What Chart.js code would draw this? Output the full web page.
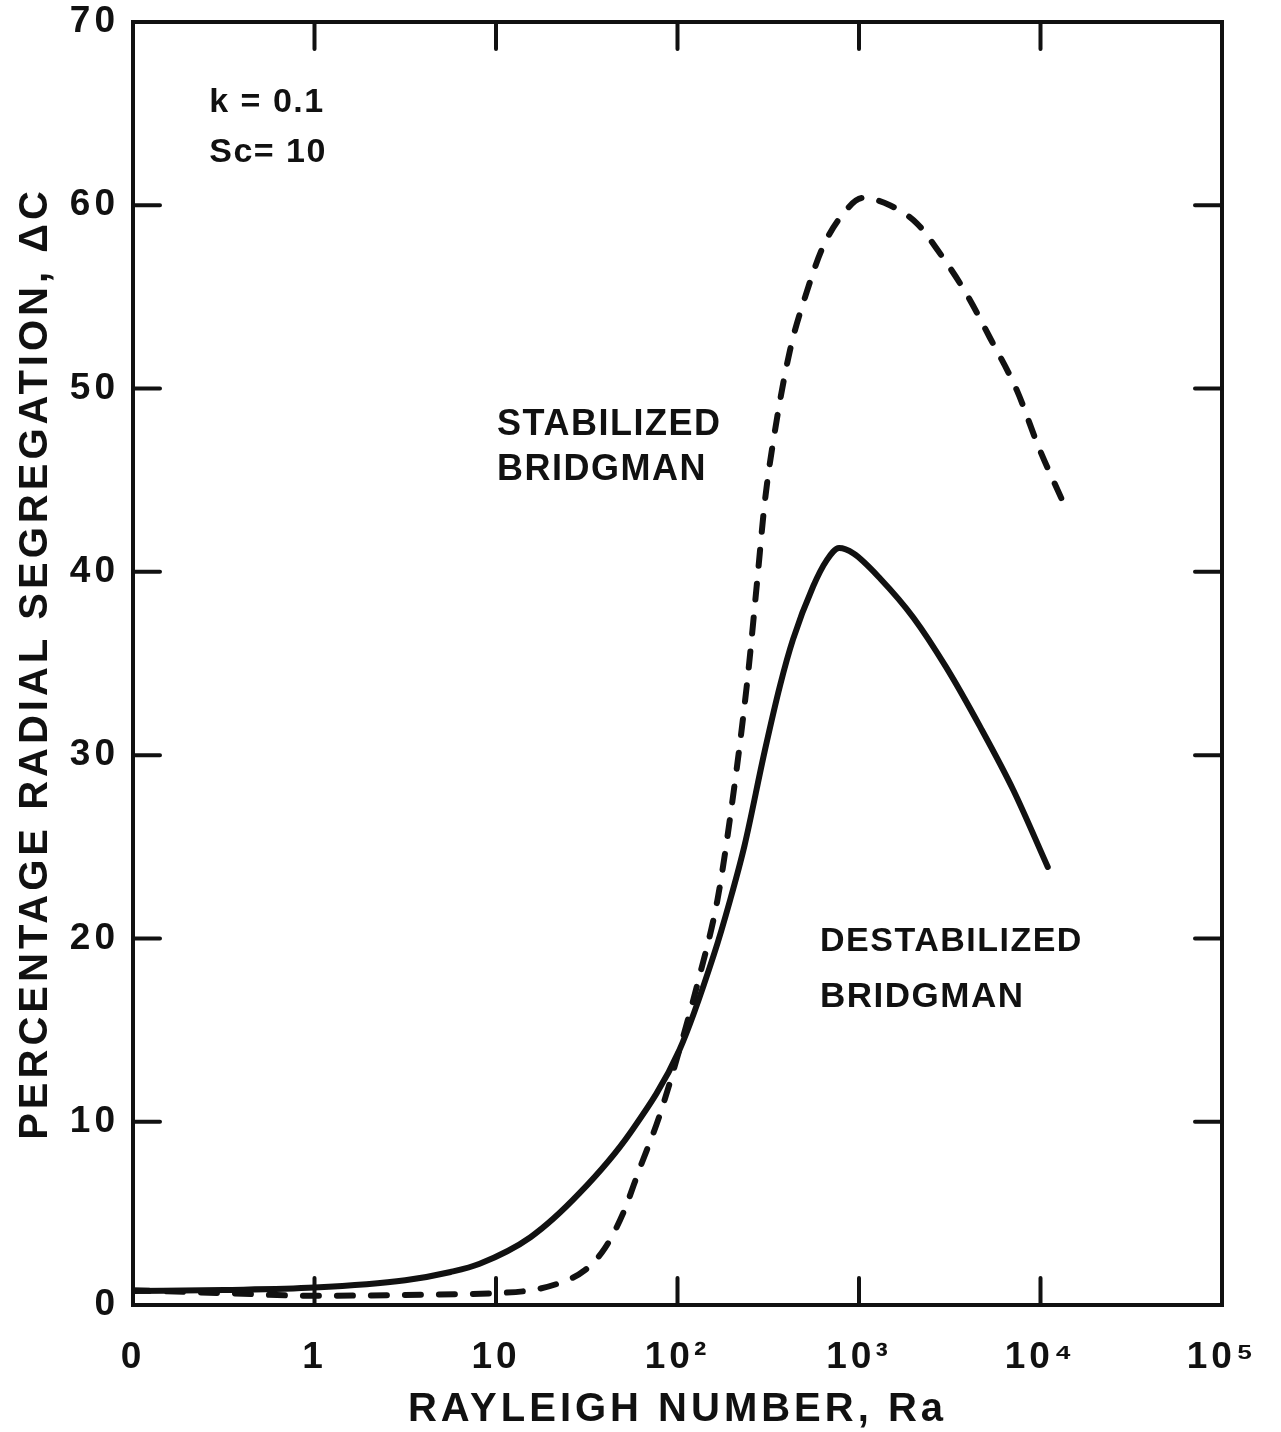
<!DOCTYPE html>
<html><head><meta charset="utf-8">
<script src="https://cdn.jsdelivr.net/npm/chart.js@4.4.1/dist/chart.umd.min.js"></script>
<style>html,body{margin:0;padding:0;background:#fff}#wrap{width:1281px;height:1432px;position:relative}</style>
</head><body><div id="wrap"><canvas id="c"></canvas></div>
<script>
// x positions are decade indices: 0 -> Ra=0, 1 -> Ra=1, 2 -> 10, 3 -> 10^2 ...
const xTickLabels = ['0', '1', '10', '10²', '10³', '10⁴', '10⁵'];
const yTickValues = [0, 10, 20, 30, 40, 50, 60, 70];

const destabilizedX = [0, 0.5, 1, 1.5, 1.75, 1.91, 2.19, 2.46, 2.74, 3.01, 3.2, 3.29, 3.37, 3.48, 3.565, 3.636, 3.747, 3.82, 3.89, 3.97, 4.12, 4.30, 4.48, 4.67, 4.85, 5.04];
const destabilizedY = [0.76, 0.82, 0.95, 1.35, 1.8, 2.25, 3.7, 6.1, 9.4, 13.9, 19.1, 22.1, 25.1, 30.2, 33.8, 36.3, 39.2, 40.6, 41.3, 41.0, 39.6, 37.5, 34.8, 31.5, 28.1, 23.9];

const stabilizedX = [0, 0.5, 1, 1.5, 2, 2.19, 2.35, 2.49, 2.60, 2.70, 2.79, 2.90, 3.01, 3.12, 3.22, 3.29, 3.383, 3.438, 3.482, 3.537, 3.62, 3.713, 3.80, 3.91, 4.02, 4.17, 4.32, 4.43, 4.59, 4.72, 4.87, 4.99, 5.12];
const stabilizedY = [0.8, 0.65, 0.5, 0.55, 0.65, 0.8, 1.2, 1.9, 3.1, 5.0, 7.4, 10.3, 13.9, 17.9, 22.1, 26.6, 33.9, 39.4, 43.9, 47.7, 52.1, 55.3, 57.7, 59.5, 60.4, 60.0, 59.0, 57.6, 55.2, 52.8, 49.9, 46.8, 43.9];

const xTitle = 'RAYLEIGH NUMBER, Ra';
const yTitle = 'PERCENTAGE RADIAL SEGREGATION, ΔC';
const notes = [
  {text: 'k = 0.1', x: 0.42, y: 65.6, size: 34},
  {text: 'Sc= 10', x: 0.42, y: 62.9, size: 34},
  {text: 'STABILIZED', x: 2.006, y: 48.0, size: 36},
  {text: 'BRIDGMAN', x: 2.006, y: 45.55, size: 36},
  {text: 'DESTABILIZED', x: 3.785, y: 19.8, size: 34},
  {text: 'BRIDGMAN', x: 3.785, y: 16.8, size: 35}
];

const FONT = '"Liberation Sans", Arial, sans-serif';
const INK = '#111';

const toPts = (xs, ys) => xs.map((x, i) => ({x: x, y: ys[i]}));

const spacingPlugin = {
  id: 'spacing',
  beforeDraw(chart) { chart.ctx.letterSpacing = '4px'; }
};

const framePlugin = {
  id: 'frame',
  afterDraw(chart) {
    const ctx = chart.ctx;
    const a = chart.chartArea;
    const xs = chart.scales.x, ys = chart.scales.y;
    const L = 27;
    ctx.save();
    ctx.strokeStyle = INK;
    ctx.lineWidth = 4;
    ctx.lineCap = 'round';
    ctx.strokeRect(a.left, a.top, a.right - a.left, a.bottom - a.top);
    ctx.beginPath();
    xs.ticks.forEach(t => {
      if (t.value <= xs.min || t.value >= xs.max) return;
      const px = xs.getPixelForValue(t.value);
      ctx.moveTo(px, a.top); ctx.lineTo(px, a.top + L);
      ctx.moveTo(px, a.bottom); ctx.lineTo(px, a.bottom - L);
    });
    ys.ticks.forEach(t => {
      if (t.value <= ys.min || t.value >= ys.max) return;
      const py = ys.getPixelForValue(t.value);
      ctx.moveTo(a.left, py); ctx.lineTo(a.left + L, py);
      ctx.moveTo(a.right, py); ctx.lineTo(a.right - L, py);
    });
    ctx.stroke();
    // annotations
    ctx.fillStyle = INK;
    ctx.textAlign = 'left';
    ctx.textBaseline = 'middle';
    ctx.letterSpacing = '1.5px';
    notes.forEach(n => {
      ctx.font = 'bold ' + n.size + 'px ' + FONT;
      ctx.fillText(n.text, xs.getPixelForValue(n.x), ys.getPixelForValue(n.y));
    });
    ctx.restore();
  }
};

new Chart(document.getElementById('c'), {
  type: 'line',
  data: {
    datasets: [
      {
        label: 'Destabilized Bridgman',
        data: toPts(destabilizedX, destabilizedY),
        borderColor: INK,
        borderWidth: 6,
        pointRadius: 0,
        fill: false,
        cubicInterpolationMode: 'monotone',
        borderCapStyle: 'round',
        borderJoinStyle: 'round'
      },
      {
        label: 'Stabilized Bridgman',
        data: toPts(stabilizedX, stabilizedY),
        borderColor: INK,
        borderWidth: 6,
        borderDash: [16, 18],
        borderCapStyle: 'round',
        pointRadius: 0,
        fill: false,
        cubicInterpolationMode: 'monotone'
      }
    ]
  },
  options: {
    responsive: true,
    maintainAspectRatio: false,
    animation: false,
    events: [],
    layout: {padding: {top: 22, right: 59, left: 0, bottom: 0}},
    plugins: {legend: {display: false}, tooltip: {enabled: false}},
    scales: {
      x: {
        type: 'linear',
        min: 0, max: 6,
        grid: {display: false, drawTicks: false},
        border: {display: false},
        ticks: {
          stepSize: 1,
          autoSkip: false,
          maxRotation: 0,
          padding: 31,
          color: INK,
          font: {family: FONT, size: 37, weight: 'bold'},
          callback: v => xTickLabels[v]
        },
        title: {display: true, text: xTitle, color: INK, font: {family: FONT, size: 40, weight: 'bold', lineHeight: 1}, padding: {top: 0, bottom: 2}},
        afterFit(s) { s.height = 127; s.paddingLeft = 0; s.paddingRight = 0; }
      },
      y: {
        type: 'linear',
        min: 0, max: 70,
        grid: {display: false, drawTicks: false},
        border: {display: false},
        afterBuildTicks(s) { s.ticks = yTickValues.map(v => ({value: v})); },
        ticks: {
          stepSize: 10,
          padding: 14,
          color: INK,
          font: {family: FONT, size: 37, weight: 'bold'}
        },
        title: {display: true, text: yTitle, color: INK, font: {family: FONT, size: 40, weight: 'bold', lineHeight: 1}, padding: {top: 16, bottom: 0}},
        afterFit(s) { s.width = 133; s.paddingTop = 0; s.paddingBottom = 0; }
      }
    }
  },
  plugins: [spacingPlugin, framePlugin]
});
</script>
</body></html>
